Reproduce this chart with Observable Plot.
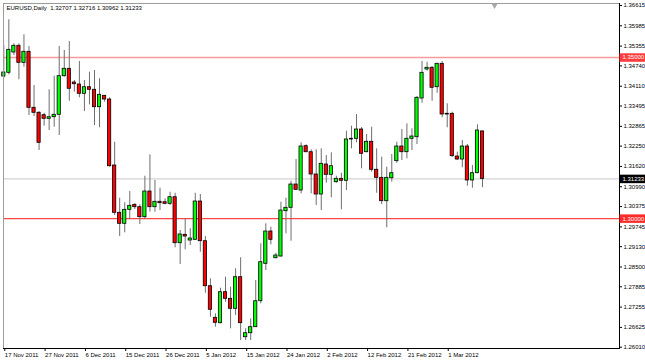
<!DOCTYPE html>
<html><head><meta charset="utf-8">
<script src="https://cdn.jsdelivr.net/npm/d3@7"></script>
<script src="https://cdn.jsdelivr.net/npm/@observablehq/plot@0.6"></script>
<style>
html,body{margin:0;padding:0;background:#fff;}
#chart{position:relative;width:645px;height:361px;overflow:hidden;background:#fff;}
#chart svg{display:block;}
</style></head><body><div id="chart"></div>
<script>
const headerText = "EURUSD,Daily  1.32707 1.32716 1.30962 1.31233";

const opens = [1.34411,1.34526,1.35156,1.35364,1.34836,1.35178,1.33440,1.33285,1.33210,1.33098,
1.33148,1.33223,1.34421,1.34650,1.34225,1.34163,1.33874,1.34079,1.33999,1.33458,
1.33812,1.33697,1.31649,1.30181,1.29840,1.30274,1.30429,1.30355,1.30045,1.30842,
1.30355,1.30523,1.30510,1.30460,1.30665,1.29238,1.29498,1.29321,1.29343,1.30532,
1.29300,1.27903,1.26922,1.26755,1.27717,1.27512,1.27202,1.28182,1.26320,1.26444,
1.26631,1.27437,1.28598,1.29601,1.28772,1.28825,1.30231,1.30336,1.31059,1.30873,
1.32248,1.32062,1.31370,1.30749,1.31680,1.31360,1.31131,1.31236,1.31174,1.32456,
1.32478,1.32766,1.32062,1.32385,1.31516,1.31267,1.30541,1.31255,1.31783,1.32239,
1.32062,1.32478,1.32527,1.33728,1.34628,1.34681,1.34079,1.34805,1.33254,1.33254,
1.31928,1.31835,1.32239,1.31184,1.31410,1.32707];

const highs = [1.35373,1.36171,1.35426,1.35426,1.35705,1.35342,1.34132,1.33325,1.33272,1.33999,
1.34421,1.35342,1.35218,1.35498,1.34287,1.34877,1.34287,1.34545,1.34597,1.34340,
1.33822,1.33750,1.32372,1.30634,1.30491,1.30842,1.30460,1.30429,1.31317,1.31981,
1.31184,1.30945,1.30616,1.30820,1.30789,1.29632,1.29995,1.29684,1.30789,1.30749,
1.29445,1.28133,1.27046,1.27841,1.28182,1.27872,1.28443,1.28784,1.26581,1.26891,
1.28080,1.29219,1.29840,1.29734,1.28927,1.30510,1.30634,1.31162,1.31835,1.32354,
1.32292,1.32136,1.32136,1.32167,1.31959,1.32043,1.31317,1.31410,1.32714,1.32869,
1.33232,1.32828,1.32611,1.32838,1.32167,1.31907,1.31596,1.31991,1.32372,1.32766,
1.32943,1.32788,1.33791,1.34877,1.34855,1.34722,1.34824,1.34877,1.33564,1.33303,
1.32062,1.32425,1.32301,1.31649,1.32912,1.32716];

const lows = [1.34349,1.34464,1.35063,1.34309,1.34700,1.33201,1.33170,1.32115,1.32869,1.32735,
1.32838,1.32580,1.34390,1.33645,1.33924,1.33750,1.33325,1.33533,1.32890,1.32819,
1.33614,1.31596,1.30097,1.29445,1.29560,1.29964,1.30284,1.29818,1.29973,1.30200,
1.30200,1.30252,1.30429,1.30408,1.29095,1.28576,1.29033,1.29166,1.29321,1.28958,
1.27686,1.26941,1.26631,1.26736,1.27406,1.26581,1.26994,1.26218,1.26218,1.26218,
1.26631,1.27357,1.28390,1.29188,1.28753,1.28803,1.29529,1.29300,1.30873,1.30771,
1.32043,1.30771,1.30408,1.30252,1.31100,1.30647,1.31100,1.30274,1.30873,1.32167,
1.32354,1.31547,1.32043,1.31441,1.30789,1.30439,1.29716,1.31131,1.31720,1.31804,
1.31857,1.32115,1.32301,1.33583,1.34576,1.33645,1.33893,1.33130,1.32819,1.31907,
1.31804,1.31578,1.31007,1.30945,1.31392,1.30962];

const closes = [1.34535,1.35240,1.35364,1.34836,1.35178,1.33440,1.33285,1.32354,1.33098,1.33148,
1.33223,1.34421,1.34650,1.34030,1.34172,1.33874,1.34079,1.33999,1.33458,1.33843,
1.33697,1.31627,1.30181,1.29840,1.30274,1.30398,1.30355,1.30045,1.30842,1.30355,
1.30523,1.30479,1.30460,1.30665,1.29238,1.29508,1.29445,1.29383,1.30532,1.29300,
1.27903,1.27171,1.26767,1.27717,1.27512,1.27202,1.28182,1.26755,1.26444,1.26631,
1.27437,1.28648,1.29601,1.29343,1.28856,1.30252,1.30336,1.31059,1.30895,1.32239,
1.32062,1.31370,1.30749,1.31702,1.31360,1.31627,1.31236,1.31174,1.32456,1.32478,
1.32766,1.32012,1.32385,1.31516,1.31267,1.30541,1.31267,1.31410,1.32239,1.32062,
1.32478,1.32549,1.33750,1.34526,1.34681,1.34061,1.34805,1.33232,1.33232,1.31938,
1.31835,1.32239,1.31184,1.31410,1.32735,1.31233];

const dateTickIndex = [0,8,16,24,32,40,48,56,64,72,80,88];
const dateTickLabels = ["17 Nov 2011","27 Nov 2011","6 Dec 2011","15 Dec 2011","26 Dec 2011","5 Jan 2012",
"15 Jan 2012","24 Jan 2012","2 Feb 2012","12 Feb 2012","21 Feb 2012","1 Mar 2012"];

const priceTickLabels = ["1.36615","1.35985","1.35355","1.34740","1.34110","1.33495","1.32865","1.32250","1.31620",
"1.30990","1.30375","1.29745","1.29130","1.28500","1.27885","1.27255","1.26625","1.26010"];

const levelPrices = [1.35000, 1.30000];
const levelLabels = ["1.35000", "1.30000"];
const bidPrice = 1.31233;
const bidLabel = "1.31233";
const chartShiftIndex = [97.4];

const W = 645, H = 361, mL = 3, mR = 26, mT = 3, mB = 13;
const xDomain = [-0.06, 122.19];
const bars = opens.map((o, i) => ({i, o, h: highs[i], l: lows[i], c: closes[i]}));
const priceTicks = priceTickLabels.map(Number);
const tags = [
  {v: levelPrices[0], t: levelLabels[0], bg: "#ff3b3b"},
  {v: levelPrices[1], t: levelLabels[1], bg: "#ff2a2a"},
  {v: bidPrice, t: bidLabel, bg: "#000000"}
];
// x positions (in index units) of the right price-scale strip, derived from the scale
const xs = Plot.scale({x: {type: "linear", domain: xDomain, range: [mL, W - mR]}});
const stripStart = xs.invert(W - mR + 0.5);
const stripEnd = xs.invert(W);
const tagTextX = xs.invert(W - mR + 3);

const chart = Plot.plot({
  width: W, height: H,
  marginLeft: mL, marginRight: mR, marginTop: mT, marginBottom: mB,
  style: {fontFamily: "'Liberation Sans', Arial, sans-serif", fontSize: "6px", background: "#fff", color: "#000"},
  x: {type: "linear", domain: xDomain, axis: null, label: null},
  y: {domain: [1.2597, 1.36677], axis: null, label: null},
  marks: [
    Plot.ruleY([levelPrices[0]], {stroke: "#f99a9a", strokeWidth: 1.4}),
    Plot.ruleY([levelPrices[1]], {stroke: "#ff4444", strokeWidth: 1.2}),
    Plot.ruleY([bidPrice], {stroke: "#c8c8c8", strokeWidth: 1}),
    Plot.ruleX(bars, {x: "i", y1: "l", y2: "h", stroke: "#6e6e6e", strokeWidth: 1}),
    Plot.rect(bars, {
      x1: d => d.i - 0.32, x2: d => d.i + 0.32, y1: "o", y2: "c",
      fill: d => d.c >= d.o ? "#00ff00" : "#ff0000", stroke: "#000", strokeWidth: 0.8
    }),
    Plot.frame({anchor: "top", stroke: "#9c9c9c"}),
    Plot.frame({anchor: "left", stroke: "#9c9c9c"}),
    Plot.frame({anchor: "right", stroke: "#000"}),
    Plot.frame({anchor: "bottom", stroke: "#000"}),
    Plot.axisY(priceTicks, {anchor: "right", label: null, tickSize: 2, tickPadding: 2, tickFormat: d => d.toFixed(5), fill: "#000", stroke: "#000"}),
    Plot.axisX(dateTickIndex, {anchor: "bottom", label: null, tickSize: 3, tickPadding: 1, textAnchor: "start", dx: 1,
      tickFormat: d => dateTickLabels[dateTickIndex.indexOf(d)], fill: "#000", stroke: "#000"}),
    Plot.ruleY(tags, {y: "v", x1: stripStart, x2: stripEnd, stroke: d => d.bg, strokeWidth: 8.5}),
    Plot.text(tags, {y: "v", x: tagTextX, text: "t", textAnchor: "start", fill: "#ffffff"}),
    Plot.text([headerText], {frameAnchor: "top-left", dx: 3, dy: 2, textAnchor: "start", lineAnchor: "top", fill: "#000"}),
    Plot.dot(chartShiftIndex, {x: d => d, frameAnchor: "top", dy: 2, symbol: "triangle", rotate: 180, r: 2.2, fill: "#a8a8a8", stroke: "none"})
  ]
});

document.getElementById("chart").appendChild(chart);
</script>
</body></html>
